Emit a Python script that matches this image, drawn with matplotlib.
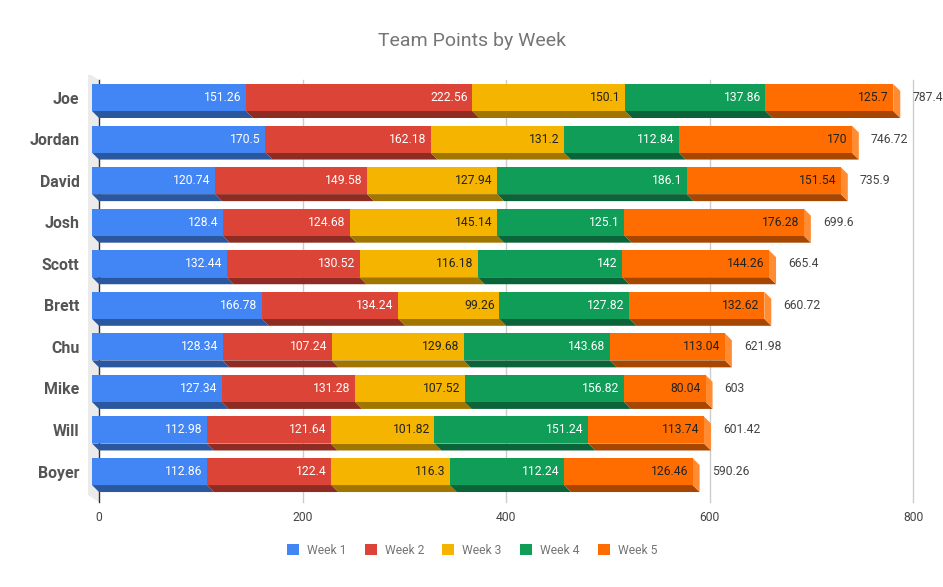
import matplotlib
matplotlib.use('Agg')
import matplotlib.pyplot as plt
from matplotlib.patches import Polygon, Patch
import numpy as np

plt.rcParams['font.family'] = ['Roboto', 'DejaVu Sans']

# --- data ---
players = ['Joe', 'Jordan', 'David', 'Josh', 'Scott', 'Brett', 'Chu', 'Mike', 'Will', 'Boyer']
week1 = [151.26, 170.5, 120.74, 128.4, 132.44, 166.78, 128.34, 127.34, 112.98, 112.86]
week2 = [222.56, 162.18, 149.58, 124.68, 130.52, 134.24, 107.24, 131.28, 121.64, 122.4]
week3 = [150.1, 131.2, 127.94, 145.14, 116.18, 99.26, 129.68, 107.52, 101.82, 116.3]
week4 = [137.86, 112.84, 186.1, 125.1, 142, 127.82, 143.68, 156.82, 151.24, 112.24]
week5 = [125.7, 170, 151.54, 176.28, 144.26, 132.62, 113.04, 80.04, 113.74, 126.46]
week_names = ['Week 1', 'Week 2', 'Week 3', 'Week 4', 'Week 5']
x_ticks = [0, 200, 400, 600, 800]

weeks = [week1, week2, week3, week4, week5]
front = ['#4285F4', '#DB4437', '#F4B400', '#0F9D58', '#FF6D00']
bottom = ['#2B579F', '#8E2B23', '#A07600', '#0B6339', '#A64600']
side_col = '#FF8B33'
txt_col = ['white', 'white', '#222222', 'white', '#222222']

# --- layout (pixel based) ---
W, H = 943, 587
fig = plt.figure(figsize=(W / 100, H / 100), dpi=100)
ax_l, ax_r, ax_t, ax_b = 85, 930, 75, 505
ax = fig.add_axes([ax_l / W, 1 - ax_b / H, (ax_r - ax_l) / W, (ax_b - ax_t) / H])

px_x = 1.0175           # pixels per point on the x axis
x0_px = 92              # pixel of value 0 (front face)
row0_px, row_px = 97.5, 41.56
ax.set_xlim(-(x0_px - ax_l) / px_x, (ax_r - x0_px) / px_x)
ax.set_ylim(9 + (ax_b - (row0_px + 9 * row_px)) / row_px, -(row0_px - ax_t) / row_px)

dx = 7 / px_x           # depth offset in data units
dy = 7 / row_px
bh = 27 / row_px
grid_top = (80 - row0_px) / row_px
grid_bot = (502 - row0_px) / row_px

# left wall
ax.add_patch(Polygon([(-4 / px_x, grid_top - dy), (dx, grid_top), (dx, grid_bot), (-4 / px_x, grid_bot - dy)],
                     closed=True, facecolor='#ebebeb', edgecolor='none', zorder=0))
# gridlines on back plane
for v in x_ticks:
    c = '#333333' if v == 0 else '#cccccc'
    ax.plot([v + dx, v + dx], [grid_top, grid_bot], color=c, lw=1, zorder=1)

y = np.arange(len(players))
left = np.zeros(len(players))
for i, vals in enumerate(weeks):
    vals = np.array(vals)
    ax.barh(y, vals, left=left, height=bh, color=front[i], zorder=3)
    for j in range(len(players)):
        xa, xb = left[j], left[j] + vals[j]
        yb = y[j] + bh / 2
        ax.add_patch(Polygon([(xa, yb), (xb, yb), (xb + dx, yb + dy), (xa + dx, yb + dy)],
                             closed=True, facecolor=bottom[i], edgecolor='none', zorder=2))
        ax.text(xb - 4.5 / px_x, y[j], f'{vals[j]:g}', ha='right', va='center',
                fontsize=8.7, color=txt_col[i], zorder=4)
    left = left + vals

for j in range(len(players)):
    xe = left[j]
    yt, yb = y[j] - bh / 2, y[j] + bh / 2
    ax.add_patch(Polygon([(xe, yt), (xe + dx, yt + dy), (xe + dx, yb + dy), (xe, yb)],
                         closed=True, facecolor=side_col, edgecolor='none', zorder=2))
    ax.text(xe + dx + 12 / px_x, y[j], f'{round(xe, 2):g}', ha='left', va='center',
            fontsize=8.7, color='#444444', clip_on=False)

ax.set_yticks(y)
ax.set_yticklabels(players, fontsize=11.4, fontweight='bold', color='#555555')
ax.set_xticks([v + dx for v in x_ticks])
ax.set_xticklabels([str(v) for v in x_ticks], fontsize=8.7, color='#444444')
ax.tick_params(axis='both', length=0)
ax.tick_params(axis='y', pad=4)
ax.tick_params(axis='x', pad=4)
for s in ax.spines.values():
    s.set_visible(False)
ax.patch.set_visible(False)

fig.text(472 / W, 1 - 41 / H, 'Team Points by Week', ha='center', va='center',
         fontsize=14, color='#757575')

handles = [Patch(facecolor=front[i], edgecolor='none', label=week_names[i]) for i in range(5)]
leg = fig.legend(handles=handles, loc='center', bbox_to_anchor=(472 / W, 1 - 550 / H), ncol=5,
                 frameon=False, fontsize=8.7, handlelength=1.0, handleheight=1.0,
                 handletextpad=0.66, columnspacing=1.5)
for t in leg.get_texts():
    t.set_color('#757575')

fig.savefig('out.png', dpi=100)
